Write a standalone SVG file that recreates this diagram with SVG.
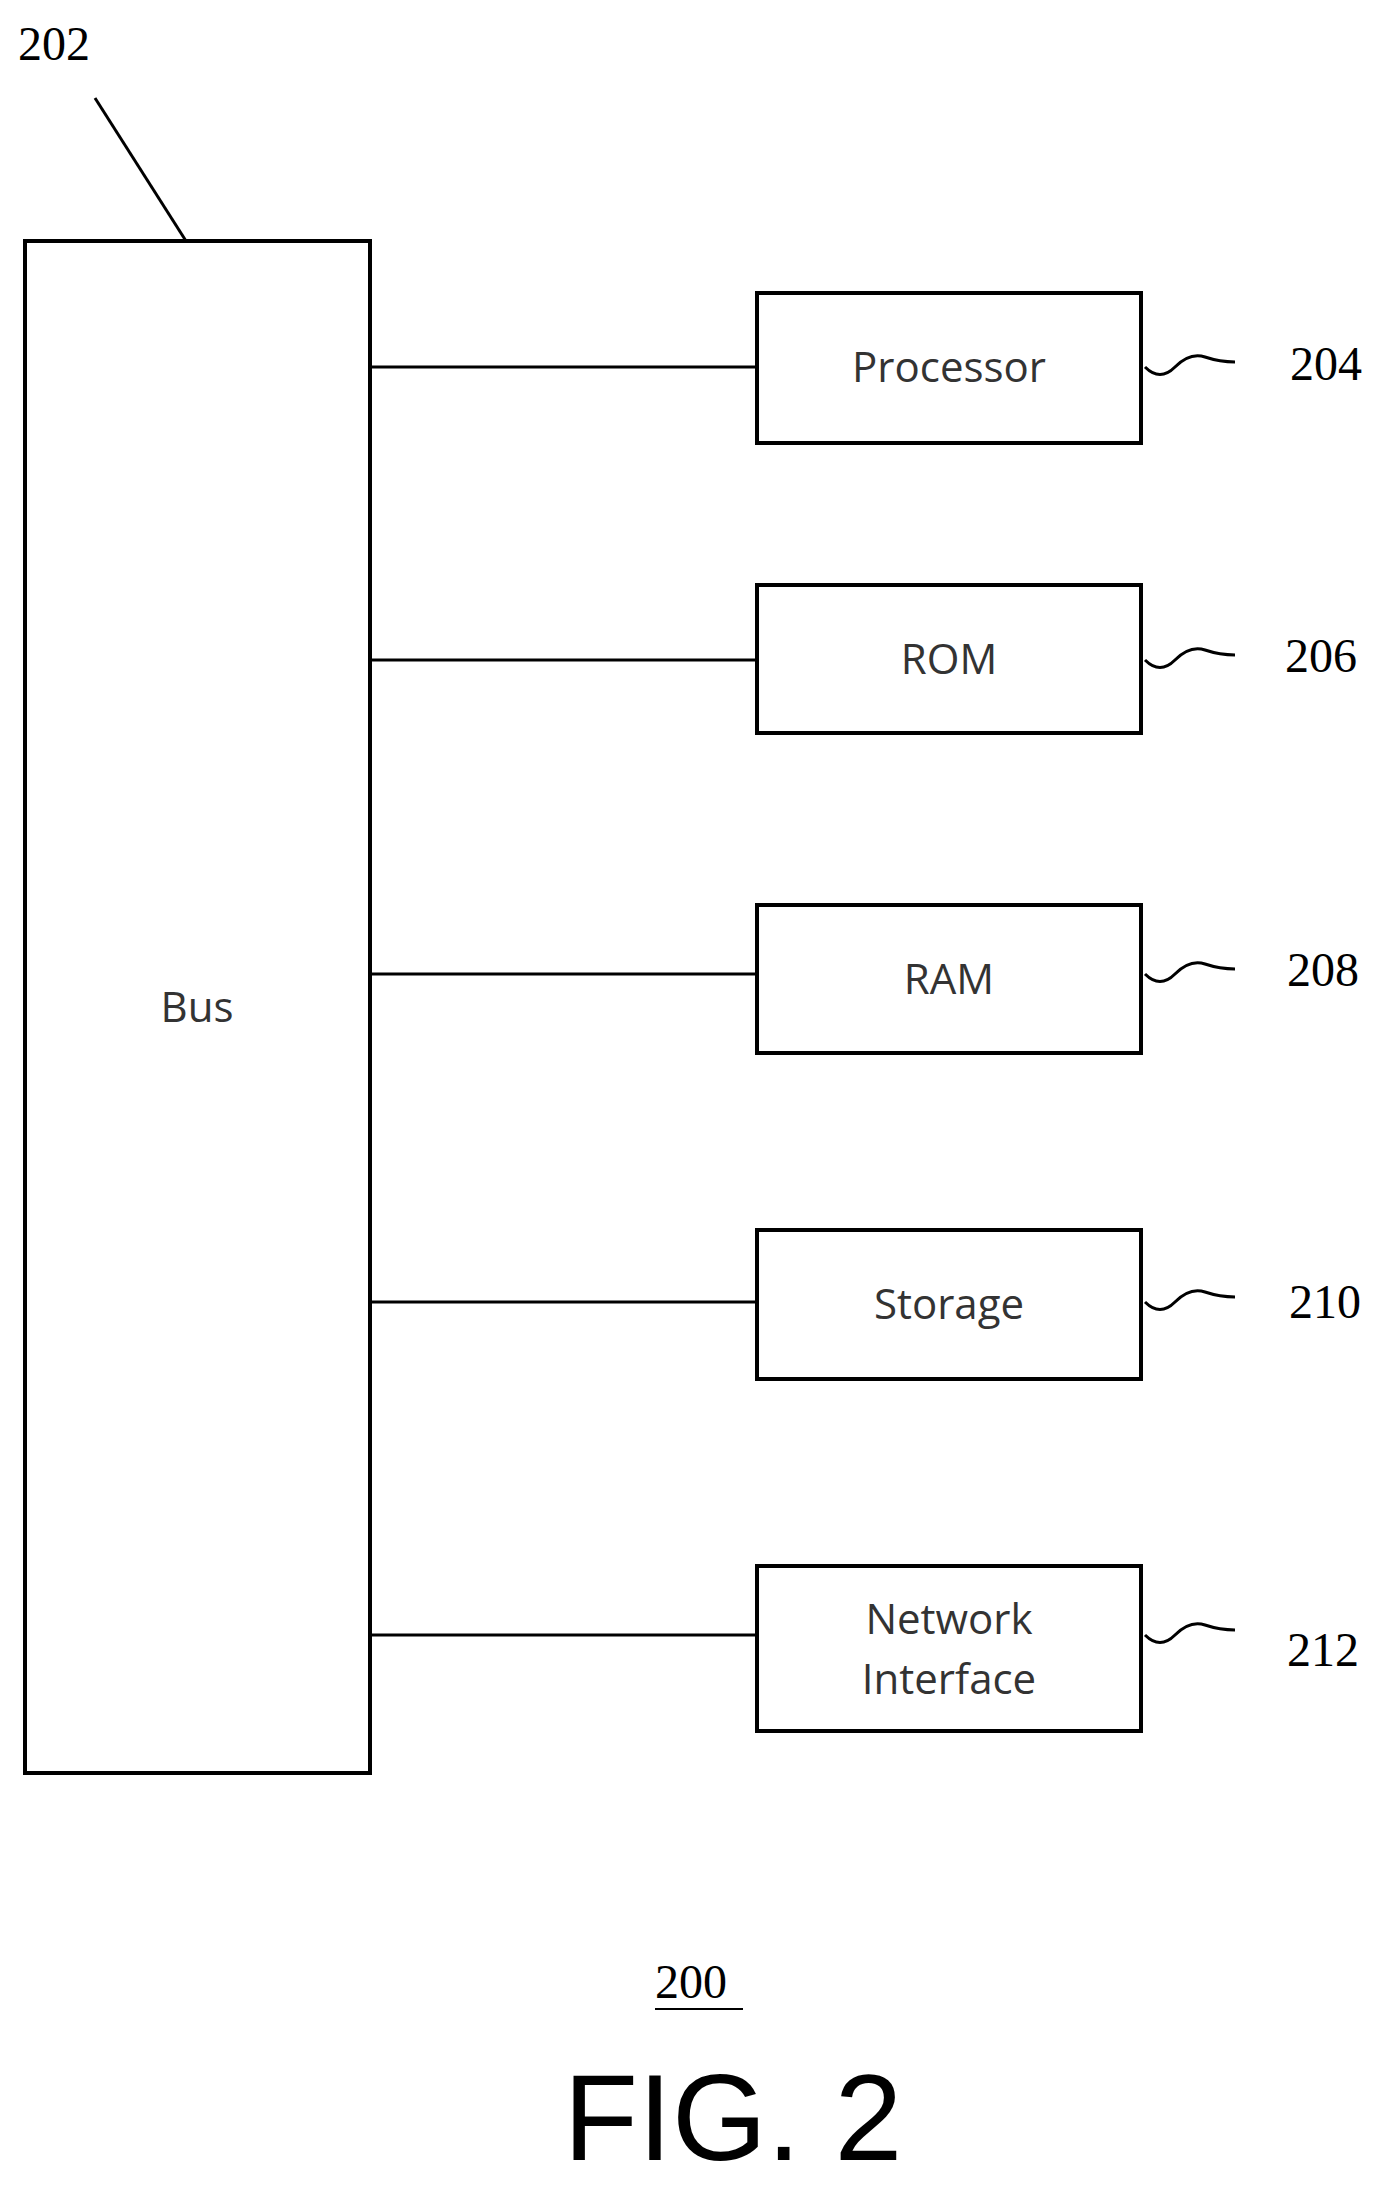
<svg xmlns="http://www.w3.org/2000/svg" width="1396" height="2193" viewBox="0 0 1396 2193">
<style>
.box{fill:#fff;stroke:#000;stroke-width:4}
.ln{stroke:#000;stroke-width:3;fill:none}
.t{font-family:"Open Sans","Liberation Sans",sans-serif;font-size:42px;text-anchor:middle;fill:#333}
.n{font-family:"Liberation Serif",serif;font-size:48px;fill:#000}
</style>
<rect width="1396" height="2193" fill="#fff"/>
<g id="connectors">
<line class="ln" x1="95" y1="98" x2="186" y2="241"/>
<line class="ln" x1="370" y1="367" x2="757" y2="367"/>
<line class="ln" x1="370" y1="660" x2="757" y2="660"/>
<line class="ln" x1="370" y1="974" x2="757" y2="974"/>
<line class="ln" x1="370" y1="1302" x2="757" y2="1302"/>
<line class="ln" x1="370" y1="1635" x2="757" y2="1635"/>
<path class="ln" d="M1145 367 q15 15 30 0 t30 -10 t30 5"/>
<path class="ln" d="M1145 660 q15 15 30 0 t30 -10 t30 5"/>
<path class="ln" d="M1145 974 q15 15 30 0 t30 -10 t30 5"/>
<path class="ln" d="M1145 1302 q15 15 30 0 t30 -10 t30 5"/>
<path class="ln" d="M1145 1635 q15 15 30 0 t30 -10 t30 5"/>
</g>
<g id="bus"><rect class="box" x="25" y="241" width="345" height="1532"/><text class="t" x="197" y="1022">Bus</text></g>
<g id="processor"><rect class="box" x="757" y="293" width="384" height="150"/><text class="t" x="949" y="382">Processor</text></g>
<g id="rom"><rect class="box" x="757" y="585" width="384" height="148"/><text class="t" x="949" y="674">ROM</text></g>
<g id="ram"><rect class="box" x="757" y="905" width="384" height="148"/><text class="t" x="949" y="994">RAM</text></g>
<g id="storage"><rect class="box" x="757" y="1230" width="384" height="149"/><text class="t" x="949" y="1319">Storage</text></g>
<g id="network"><rect class="box" x="757" y="1566" width="384" height="165"/><text class="t" x="949" y="1634">Network</text><text class="t" x="949" y="1694">Interface</text></g>
<g id="labels">
<text class="n" x="18" y="60">202</text>
<text class="n" x="1290" y="380">204</text>
<text class="n" x="1285" y="672">206</text>
<text class="n" x="1287" y="986">208</text>
<text class="n" x="1289" y="1318">210</text>
<text class="n" x="1287" y="1666">212</text>
<text class="n" x="655" y="1998">200</text>
<line x1="655" y1="2009" x2="743" y2="2009" stroke="#000" stroke-width="2"/>
<text x="733" y="2160" font-family="Liberation Sans,sans-serif" font-size="122" text-anchor="middle" fill="#000">FIG. 2</text>
</g>
</svg>
